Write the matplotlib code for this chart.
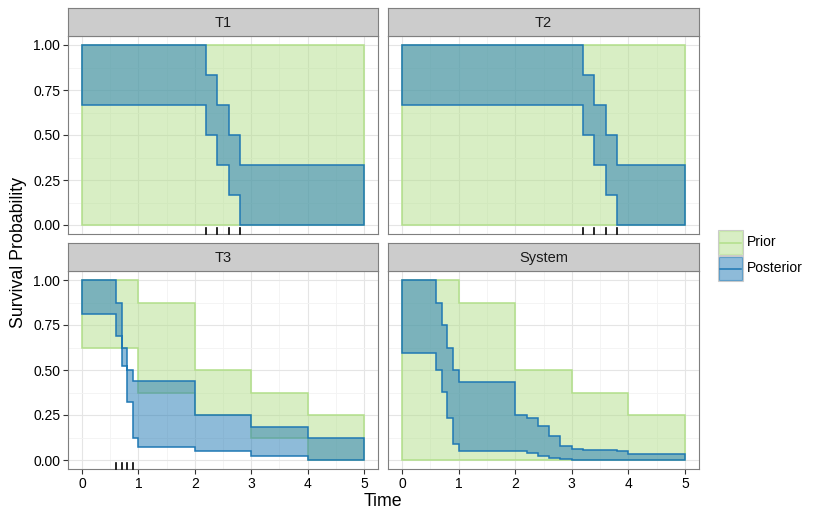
import numpy as np
import matplotlib
matplotlib.use('Agg')
import matplotlib.pyplot as plt
from matplotlib.colors import to_rgba
from matplotlib.patches import Rectangle
import matplotlib.transforms as mtransforms

plt.rcParams['font.family'] = ['Liberation Sans', 'DejaVu Sans']

# ---- data ----
panels = ['T1', 'T2', 'T3', 'System']
t_end = 5

# prior bands
prior_t = {'T1': [0], 'T2': [0],
           'T3': [0, 1, 2, 3, 4], 'System': [0, 1, 2, 3, 4]}
prior_up = {'T1': [1.0], 'T2': [1.0],
            'T3': [1.0, 0.875, 0.5, 0.375, 0.25],
            'System': [1.0, 0.875, 0.5, 0.375, 0.25]}
prior_lo = {'T1': [0.0], 'T2': [0.0],
            'T3': [0.625, 0.375, 0.25, 0.125, 0.0],
            'System': [0.0, 0.0, 0.0, 0.0, 0.0]}

# posterior bands
post_t = {'T1': [0, 2.2, 2.4, 2.6, 2.8],
          'T2': [0, 3.2, 3.4, 3.6, 3.8],
          'T3': [0, 0.6, 0.7, 0.8, 0.9, 1, 2, 3, 4],
          'System': [0, 0.6, 0.7, 0.8, 0.9, 1, 2, 2.2, 2.4, 2.6, 2.8,
                     3, 3.2, 3.4, 3.6, 3.8, 4]}
post_up = {'T1': [1.0, 0.833, 0.667, 0.5, 0.333],
           'T2': [1.0, 0.833, 0.667, 0.5, 0.333],
           'T3': [1.0, 0.875, 0.625, 0.5, 0.4375, 0.4375, 0.25, 0.185, 0.125],
           'System': [1.0, 0.875, 0.75, 0.625, 0.5, 0.435, 0.25, 0.231,
                      0.189, 0.135, 0.08, 0.059, 0.057, 0.055, 0.053, 0.051,
                      0.033]}
post_lo = {'T1': [0.667, 0.5, 0.333, 0.167, 0.0],
           'T2': [0.667, 0.5, 0.333, 0.167, 0.0],
           'T3': [0.8125, 0.69, 0.52, 0.324, 0.124, 0.074, 0.05, 0.022, 0.0],
           'System': [0.593, 0.5, 0.38, 0.235, 0.089, 0.052, 0.052, 0.037,
                      0.024, 0.013, 0.004, 0.0, 0.0, 0.0, 0.0, 0.0, 0.0]}

# failure times shown as rug
rug = {'T1': [2.2, 2.4, 2.6, 2.8], 'T2': [3.2, 3.4, 3.6, 3.8],
       'T3': [0.6, 0.7, 0.8, 0.9], 'System': []}

prior_col = '#b2df8a'
post_col = '#1f78b4'

W, H = 830, 519
fig = plt.figure(figsize=(W/100, H/100), dpi=100)

def px_axes(x0, y0, x1, y1):
    return fig.add_axes([x0/W, 1 - y1/H, (x1-x0)/W, (y1-y0)/H])

def band(ax, t, up, lo, col):
    xs, ys = [], []
    tt = list(t) + [t_end]
    for i in range(len(up)):
        xs += [tt[i], tt[i+1]]
        ys += [up[i], up[i]]
    for i in range(len(lo)-1, -1, -1):
        xs += [tt[i+1], tt[i]]
        ys += [lo[i], lo[i]]
    ax.fill(xs, ys, facecolor=to_rgba(col, 0.5), edgecolor=col,
            linewidth=1.1, zorder=3)

boxes = {'T1': (68, 36, 378, 234), 'T2': (388, 36, 699, 234),
         'T3': (68, 271, 378, 469), 'System': (388, 271, 699, 469)}

for name in panels:
    x0, y0, x1, y1 = boxes[name]
    ax = px_axes(x0, y0, x1, y1)
    ax.set_xlim(-0.25, 5.25)
    ax.set_ylim(-0.05, 1.05)
    ax.set_xticks(range(6))
    ax.set_yticks([0, 0.25, 0.5, 0.75, 1.0])
    ax.set_xticks(np.arange(0.5, 5, 1), minor=True)
    ax.set_yticks(np.arange(0.125, 1, 0.25), minor=True)
    ax.grid(which='major', color='#e5e5e5', linewidth=0.8, zorder=0)
    ax.grid(which='minor', color='#f3f3f3', linewidth=0.6, zorder=0)
    ax.set_axisbelow(True)
    ax.tick_params(which='minor', length=0)
    ax.tick_params(which='major', length=3.5, width=0.8, color='#333333',
                   labelsize=10, pad=2, labelcolor='black')
    for s in ax.spines.values():
        s.set_color('#7f7f7f')
        s.set_linewidth(0.8)
    if name in ('T1', 'T2'):
        ax.tick_params(axis='x', labelbottom=False, length=0)
    if name in ('T2', 'System'):
        ax.tick_params(axis='y', labelleft=False, length=0)
    else:
        ax.set_yticklabels(['0.00', '0.25', '0.50', '0.75', '1.00'])

    band(ax, prior_t[name], prior_up[name], prior_lo[name], prior_col)
    band(ax, post_t[name], post_up[name], post_lo[name], post_col)

    trans = mtransforms.blended_transform_factory(ax.transData, ax.transAxes)
    for r in rug[name]:
        ax.plot([r, r], [0, 0.03], color='black', linewidth=1.2,
                transform=trans, zorder=4, clip_on=False)

    # strip
    sax = px_axes(x0, y0 - 28, x1, y0)
    sax.set_facecolor('#cccccc')
    sax.set_xticks([])
    sax.set_yticks([])
    for s in sax.spines.values():
        s.set_color('#7f7f7f')
        s.set_linewidth(0.8)
    sax.text(0.5, 0.48, name, ha='center', va='center', fontsize=10.5,
             color='#1a1a1a', transform=sax.transAxes)

fig.text(19/W, 1 - 252/H, 'Survival Probability', rotation=90,
         ha='center', va='center', fontsize=12.8)
fig.text(383/W, 1 - 501/H, 'Time', ha='center', va='center', fontsize=12.8)

# legend
lax = px_axes(700, 215, 830, 295)
lax.set_xlim(700, 830)
lax.set_ylim(295, 215)
lax.axis('off')
for lab, col, ytop in [('Prior', prior_col, 230), ('Posterior', post_col, 256)]:
    lax.add_patch(Rectangle((718, ytop), 25, 25, facecolor='white',
                            edgecolor='#cccccc', linewidth=0.8))
    lax.add_patch(Rectangle((719, ytop + 1), 23, 23,
                            facecolor=to_rgba(col, 0.5),
                            edgecolor=to_rgba(col, 0.6), linewidth=0.8))
    lax.plot([720, 741], [ytop + 12.5, ytop + 12.5], color=col, linewidth=1.1)
    lax.text(747, ytop + 12.5, lab, ha='left', va='center', fontsize=10)

fig.savefig('out.png', dpi=100)
